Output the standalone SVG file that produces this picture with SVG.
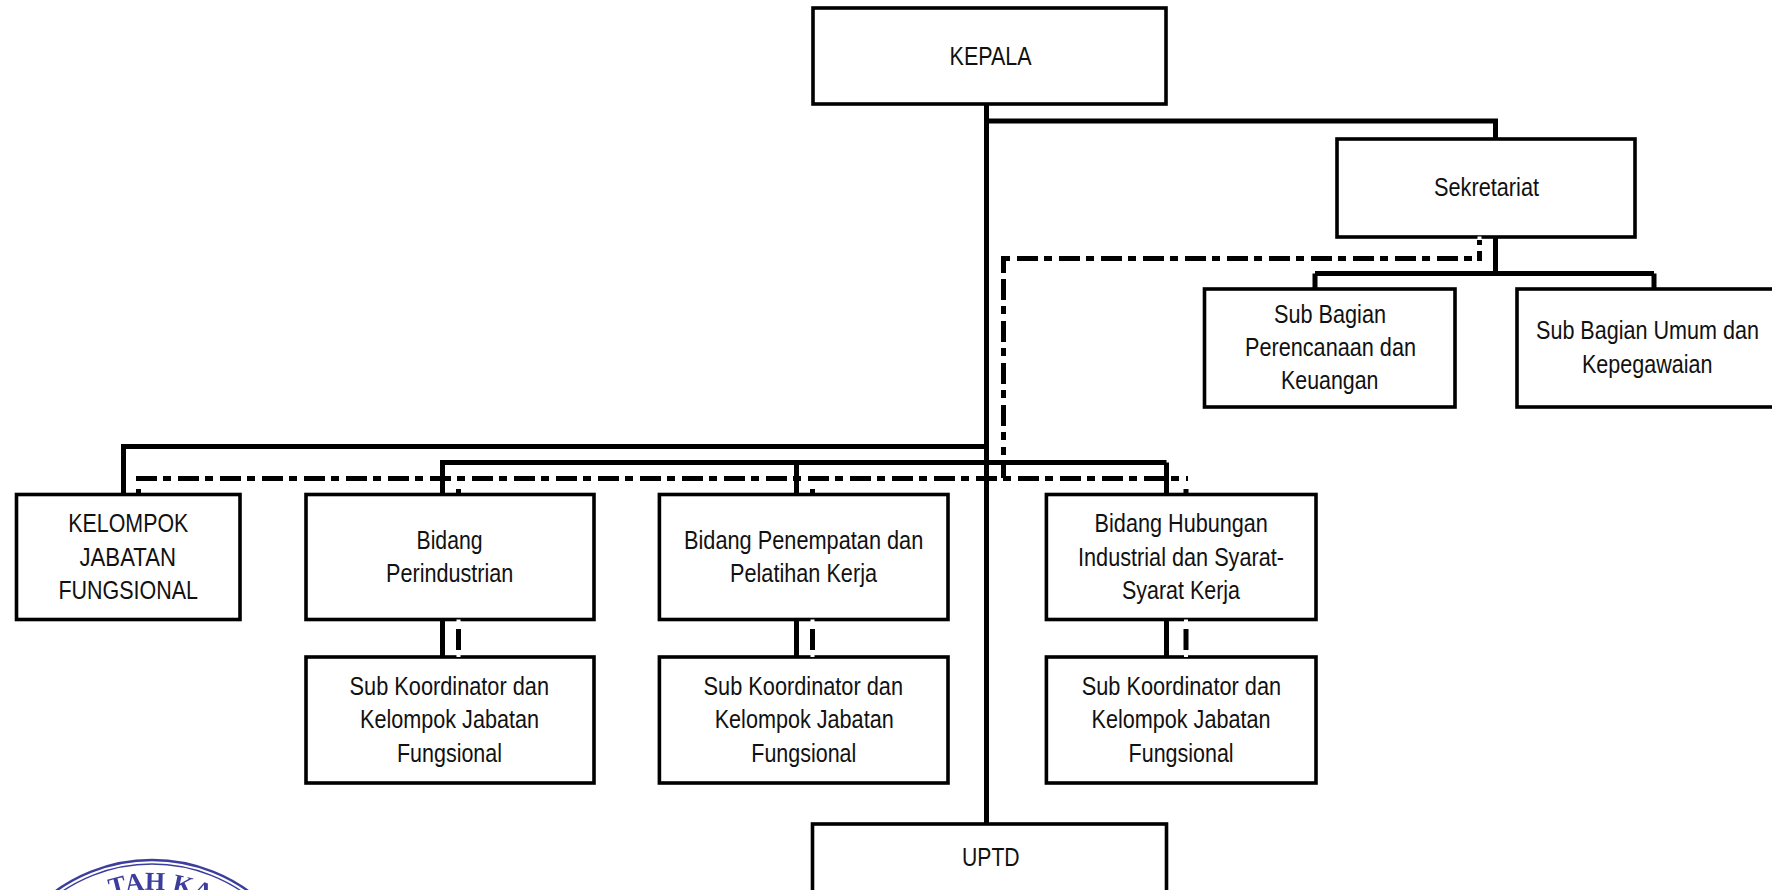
<svg xmlns="http://www.w3.org/2000/svg" width="1772" height="890" viewBox="0 0 1772 890">
<style>
.box{fill:#fff;stroke:#000;stroke-width:3.6}
.t{font-family:"Liberation Sans",Arial,sans-serif;font-size:25.5px;fill:#111}
.s{fill:none;stroke:#000;stroke-width:5}
.d{fill:none;stroke:#000;stroke-width:5;stroke-dasharray:21 6 8 7}
.n{fill:none;stroke:#fff;stroke-width:4}
.seal{fill:none;stroke:#3c3c9e}
.st{font-family:"Liberation Serif",serif;font-size:26px;font-weight:bold;fill:#3c3c9e}
</style>
<defs><filter id="soft" x="-5%" y="-5%" width="110%" height="110%"><feGaussianBlur stdDeviation="0.6"/></filter>
<path id="sealArc" d="M17 1025A135 135 0 0 1 287 1025"/></defs>
<rect width="1772" height="890" fill="#fff"/>
<g id="seal" filter="url(#soft)">
<circle class="seal" cx="152" cy="1025" r="165" stroke-width="2.4"/>
<circle class="seal" cx="152" cy="1025" r="161" stroke-width="1.4"/>
<text class="st"><textPath href="#sealArc" startOffset="52%" text-anchor="middle">TAH KA</textPath></text>
</g>
<g id="kepala"><rect class="box" x="813" y="8" width="353" height="96"/><text class="t" x="949.6" y="65" textLength="82" lengthAdjust="spacingAndGlyphs">KEPALA</text></g>
<g id="sekretariat"><rect class="box" x="1337" y="139" width="298" height="98"/><text class="t" x="1434" y="196" textLength="105" lengthAdjust="spacingAndGlyphs">Sekretariat</text></g>
<g id="sub-perencanaan"><rect class="box" x="1204.5" y="289" width="250.5" height="118"/>
<text class="t" x="1274" y="322.7" textLength="112" lengthAdjust="spacingAndGlyphs">Sub Bagian</text>
<text class="t" x="1245" y="356" textLength="171" lengthAdjust="spacingAndGlyphs">Perencanaan dan</text>
<text class="t" x="1281" y="389" textLength="97.5" lengthAdjust="spacingAndGlyphs">Keuangan</text></g>
<g id="sub-umum"><rect class="box" x="1517" y="289" width="265" height="118"/>
<text class="t" x="1536" y="339.3" textLength="223" lengthAdjust="spacingAndGlyphs">Sub Bagian Umum dan</text>
<text class="t" x="1582" y="372.7" textLength="130.5" lengthAdjust="spacingAndGlyphs">Kepegawaian</text></g>
<g id="kelompok"><rect class="box" x="16.5" y="494.5" width="223.5" height="125"/>
<text class="t" x="68.3" y="531.7" textLength="120" lengthAdjust="spacingAndGlyphs">KELOMPOK</text>
<text class="t" x="79.5" y="565.7" textLength="96.5" lengthAdjust="spacingAndGlyphs">JABATAN</text>
<text class="t" x="58.5" y="599" textLength="139.5" lengthAdjust="spacingAndGlyphs">FUNGSIONAL</text></g>
<g id="bidang-perindustrian"><rect class="box" x="306" y="494.5" width="288" height="125"/>
<text class="t" x="416.5" y="549" textLength="66" lengthAdjust="spacingAndGlyphs">Bidang</text>
<text class="t" x="386" y="582.3" textLength="127.4" lengthAdjust="spacingAndGlyphs">Perindustrian</text></g>
<g id="bidang-penempatan"><rect class="box" x="659.4" y="494.5" width="288.6" height="125"/>
<text class="t" x="684" y="549" textLength="239.3" lengthAdjust="spacingAndGlyphs">Bidang Penempatan dan</text>
<text class="t" x="730" y="582.3" textLength="147" lengthAdjust="spacingAndGlyphs">Pelatihan Kerja</text></g>
<g id="bidang-hubungan"><rect class="box" x="1046.4" y="494.5" width="269.6" height="125"/>
<text class="t" x="1094.6" y="531.7" textLength="173.3" lengthAdjust="spacingAndGlyphs">Bidang Hubungan</text>
<text class="t" x="1078" y="565.7" textLength="206" lengthAdjust="spacingAndGlyphs">Industrial dan Syarat-</text>
<text class="t" x="1122" y="599" textLength="118" lengthAdjust="spacingAndGlyphs">Syarat Kerja</text></g>
<g id="sub-koordinator-1"><rect class="box" x="306" y="657" width="288" height="126"/>
<text class="t" x="349.6" y="695" textLength="199.4" lengthAdjust="spacingAndGlyphs">Sub Koordinator dan</text>
<text class="t" x="360" y="728.3" textLength="179" lengthAdjust="spacingAndGlyphs">Kelompok Jabatan</text>
<text class="t" x="397" y="761.7" textLength="105" lengthAdjust="spacingAndGlyphs">Fungsional</text></g>
<g id="sub-koordinator-2"><rect class="box" x="659.4" y="657" width="288.6" height="126"/>
<text class="t" x="703.6" y="695" textLength="199.4" lengthAdjust="spacingAndGlyphs">Sub Koordinator dan</text>
<text class="t" x="714.7" y="728.3" textLength="179" lengthAdjust="spacingAndGlyphs">Kelompok Jabatan</text>
<text class="t" x="751.3" y="761.7" textLength="105" lengthAdjust="spacingAndGlyphs">Fungsional</text></g>
<g id="sub-koordinator-3"><rect class="box" x="1046.4" y="657" width="269.6" height="126"/>
<text class="t" x="1081.7" y="695" textLength="199.4" lengthAdjust="spacingAndGlyphs">Sub Koordinator dan</text>
<text class="t" x="1091.5" y="728.3" textLength="179" lengthAdjust="spacingAndGlyphs">Kelompok Jabatan</text>
<text class="t" x="1128.6" y="761.7" textLength="105" lengthAdjust="spacingAndGlyphs">Fungsional</text></g>
<g id="uptd"><rect class="box" x="812.5" y="824" width="354" height="80"/><text class="t" x="962" y="865.7" textLength="57.6" lengthAdjust="spacingAndGlyphs">UPTD</text></g>
<g id="connectors">
<path class="s" d="M986.5 104V823M986.5 121H1495.5V138M1495.5 238V273.5M1315 273.5H1654M1315 273.5V288M1654 273.5V288"/>
<path class="s" d="M986.5 446.5H123.5V493M1166.5 462.5H442.5V493M796.5 462.5V493M1166.5 462.5V493"/>
<path class="s" d="M442.5 620V656M796.5 620V656M1166.5 620V656"/>
<path class="s" d="M1010 258.5H1003.5V273M1477 258.5H1479.5V251M1479.5 245V240M1003.5 465V478M138.5 489V493M458.5 489V493M812.5 489V493M1186 489V493M458.5 629V650M812.5 629V650M1186 629V650"/>
<path class="d" d="M1017 258.5H1472"/>
<path class="d" d="M1003.5 279V455" stroke-dasharray="8 6 21 7"/>
<path class="d" d="M136 478.5H1188"/>
<path class="n" d="M458.5 619.5V622M812.5 619.5V622M1186 619.5V622M458.5 655V657M812.5 655V657M1186 655V657M1479.5 236.5V239"/>
</g>
</svg>
